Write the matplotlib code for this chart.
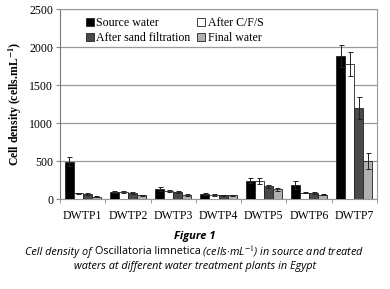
import matplotlib
matplotlib.use("Agg")
import matplotlib.pyplot as plt
import numpy as np

plants = ["DWTP1", "DWTP2", "DWTP3", "DWTP4", "DWTP5", "DWTP6", "DWTP7"]
series_names = ["Source water", "After C/F/S", "After sand filtration", "Final water"]
source = [490, 90, 130, 65, 240, 185, 1880]
cfs = [75, 90, 110, 55, 240, 83, 1780]
sand = [70, 75, 90, 50, 170, 80, 1200]
final = [30, 50, 50, 50, 130, 57, 500]
source_err = [60, 15, 30, 15, 30, 50, 140]
cfs_err = [8, 12, 15, 10, 40, 10, 155]
sand_err = [12, 12, 12, 8, 20, 10, 145]
final_err = [6, 8, 10, 6, 20, 6, 105]
yticks = [0, 500, 1000, 1500, 2000, 2500]

colors = ["#000000", "#ffffff", "#4a4a4a", "#b0b0b0"]
values = [source, cfs, sand, final]
errs = [source_err, cfs_err, sand_err, final_err]

plt.rcParams["mathtext.fontset"] = "stix"
serif = "Liberation Serif"
fig = plt.figure(figsize=(3.9, 2.89), dpi=100)
ax = fig.add_axes([60/390, 1-199/289, 317/390, 190/289])

x = np.arange(len(plants))
w = 0.2
handles = []
for i, (vals, er, c) in enumerate(zip(values, errs, colors)):
    b = ax.bar(x - 0.3 + i*w, vals, w, color=c, edgecolor="#222222", linewidth=0.6,
               yerr=er, error_kw=dict(ecolor="#222222", elinewidth=0.7, capsize=1.8, capthick=0.7),
               label=series_names[i], zorder=3)
    handles.append(b)

ax.set_xlim(-0.5, len(plants) - 0.5)
ax.set_ylim(0, 2500)
ax.set_yticks(yticks)
ax.set_yticklabels([str(v) for v in yticks], fontfamily=serif, fontsize=8.5)
ax.yaxis.grid(True, color="#999999", linewidth=0.9, zorder=0)
ax.set_axisbelow(True)
ax.set_xticks(x)
ax.set_xticklabels(plants, fontfamily=serif, fontsize=8.5)
ax.tick_params(axis="x", length=0, pad=8)
ax.set_xticks(np.arange(len(plants) + 1) - 0.5, minor=True)
ax.tick_params(axis="x", which="minor", length=3, color="#888888")
ax.tick_params(axis="y", length=3, color="#888888", pad=2)
for s in ["top", "right"]:
    ax.spines[s].set_color("#999999")
    ax.spines[s].set_linewidth(0.8)
ax.spines["left"].set_color("#777777")
ax.spines["bottom"].set_color("#999999")

ax.set_ylabel(r"Cell density (cells.mL$^{\mathbf{-1}}$)", fontfamily=serif, fontweight="bold",
              fontsize=8.5, labelpad=4)

order = [0, 2, 1, 3]
leg = ax.legend([handles[i] for i in order], [series_names[i] for i in order],
                ncol=2, loc="upper left", bbox_to_anchor=(0.055, 1.0), frameon=False,
                prop=dict(family=serif, size=8.6), handlelength=0.65, handleheight=0.65,
                handletextpad=0.2, columnspacing=0.6, labelspacing=0.25, borderaxespad=0.3)

# captions
cap = "Open Sans"
fig.text(0.5, 1-236/289, "Figure 1", ha="center", va="center", fontfamily=cap,
         fontstyle="italic", fontweight="bold", fontsize=8)

fig.canvas.draw()
renderer = fig.canvas.get_renderer()
parts = [("Cell density of ", "italic"), ("Oscillatoria limnetica", "normal"),
         (" (cells·mL$^{-1}$) in source and treated", "italic")]
y1 = 1-252/289
texts = []
for s, st in parts:
    t = fig.text(0, y1, s, ha="left", va="center", fontfamily=cap, fontstyle=st, fontsize=7.8)
    texts.append(t)
widths = [t.get_window_extent(renderer).width for t in texts]
total = sum(widths)
xpos = (390 - total) / 2
for t, wd in zip(texts, widths):
    t.set_x(xpos / 390)
    xpos += wd
fig.text(0.5, 1-267/289, "waters at different water treatment plants in Egypt", ha="center",
         va="center", fontfamily=cap, fontstyle="italic", fontsize=7.8)

fig.savefig("out.png", dpi=100)
